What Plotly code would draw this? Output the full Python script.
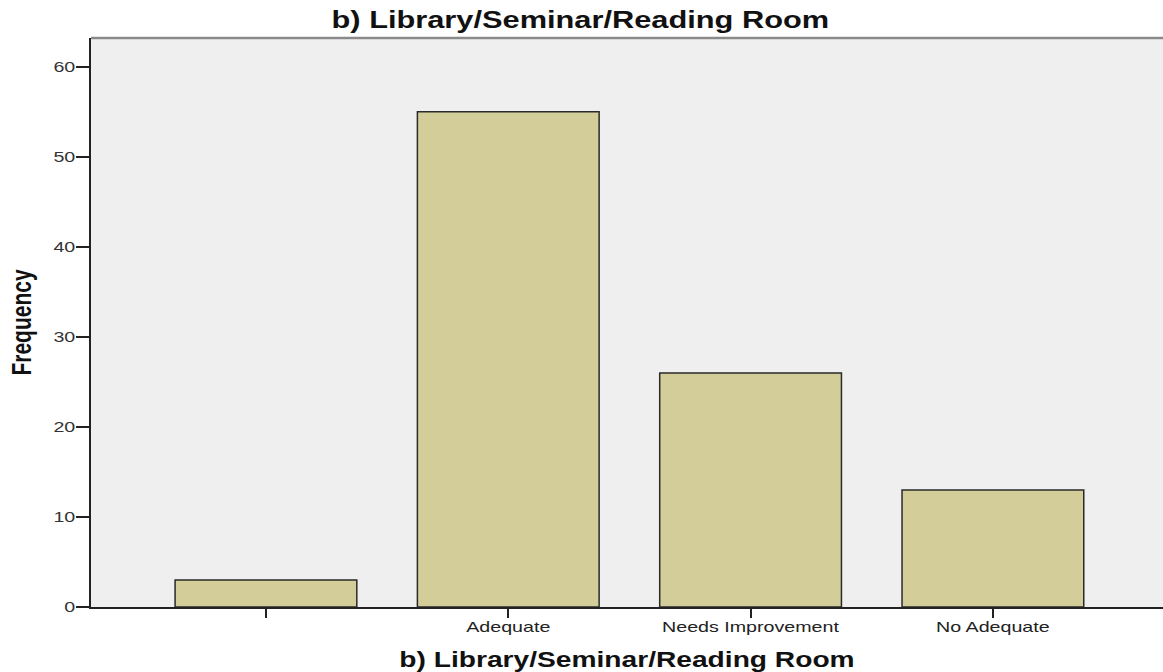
import plotly.graph_objects as go

# Survey responses for the library / seminar / reading room item
categories = ["", "Adequate", "Needs Improvement", "No Adequate"]
frequency = [3, 55, 26, 13]
positions = [1, 2, 3, 4]

y_ticks = [0, 10, 20, 30, 40, 50, 60]
title_text = "b) Library/Seminar/Reading Room"

fig = go.Figure()
fig.add_trace(go.Bar(
    x=positions,
    y=frequency,
    width=0.75,
    marker=dict(color="#D3CE99", line=dict(color="#2a2a2a", width=1.5)),
    hoverinfo="y",
))

fig.update_layout(
    width=1163,
    height=672,
    margin=dict(l=91, r=0, t=38, b=65),
    paper_bgcolor="white",
    plot_bgcolor="#EFEFEF",
    showlegend=False,
    font=dict(family="Liberation Sans, Arial, sans-serif", color="#222"),
    title=dict(
        text="<b>" + title_text + "</b>",
        x=0.499, xref="container", xanchor="center",
        y=0.970, yref="container", yanchor="middle",
        font=dict(size=23.5, color="#111"),
    ),
    xaxis=dict(
        range=[0.278, 4.702],
        tickmode="array",
        tickvals=positions,
        ticktext=categories,
        ticks="outside",
        ticklen=9,
        tickwidth=1.5,
        tickcolor="#222",
        ticklabelstandoff=-4,
        showline=True,
        linecolor="#222",
        linewidth=1.5,
        showgrid=False,
        zeroline=False,
        tickfont=dict(size=15, color="#222"),
        title=dict(text="<b>" + title_text + "</b>", standoff=19,
                   font=dict(size=21.5, color="#111")),
    ),
    yaxis=dict(
        range=[0, 63.2],
        tickmode="array",
        tickvals=y_ticks,
        ticks="outside",
        ticklen=13,
        tickwidth=1.5,
        tickcolor="#222",
        ticklabelstandoff=-2,
        showline=True,
        linecolor="#222",
        linewidth=1.5,
        showgrid=False,
        zeroline=False,
        tickfont=dict(size=15, color="#333"),
        title=dict(text="<b>Frequency</b>", standoff=24,
                   font=dict(size=21, color="#111")),
    ),
)

# Grey frame along the top of the plotting area
fig.add_shape(type="line", xref="paper", yref="paper",
              x0=0, x1=1, y0=1, y1=1,
              line=dict(color="#8a8a8a", width=2.5))

# Widen the lettering horizontally (wide-set label style)
stretch_js = """
var gd = document.getElementById('{plot_id}');
var S = 1.31;
function widen(t, mode) {
  var base = t.getAttribute('transform') || '';
  if (base.indexOf('scale(') !== -1) return;
  var bb = t.getBBox();
  var tr;
  if (mode === 'rot') {
    var cy = bb.y + bb.height / 2;
    tr = base + ' translate(0,' + cy + ') scale(1,' + S + ') translate(0,' + (-cy) + ')';
  } else if (mode === 'right') {
    var ex = bb.x + bb.width;
    tr = base + ' translate(' + ex + ',0) scale(' + S + ',1) translate(' + (-ex) + ',0)';
  } else {
    var cx = bb.x + bb.width / 2;
    tr = base + ' translate(' + cx + ',0) scale(' + S + ',1) translate(' + (-cx) + ',0)';
  }
  t.setAttribute('transform', tr);
}
function widenAll() {
  gd.querySelectorAll('text.gtitle, text.xtitle, .xtick text').forEach(function (t) { widen(t, 'center'); });
  gd.querySelectorAll('.ytick text').forEach(function (t) { widen(t, 'right'); });
  gd.querySelectorAll('text.ytitle').forEach(function (t) { widen(t, 'rot'); });
}
widenAll();
gd.on('plotly_afterplot', widenAll);
"""

fig.write_html("out.html", post_script=stretch_js)
